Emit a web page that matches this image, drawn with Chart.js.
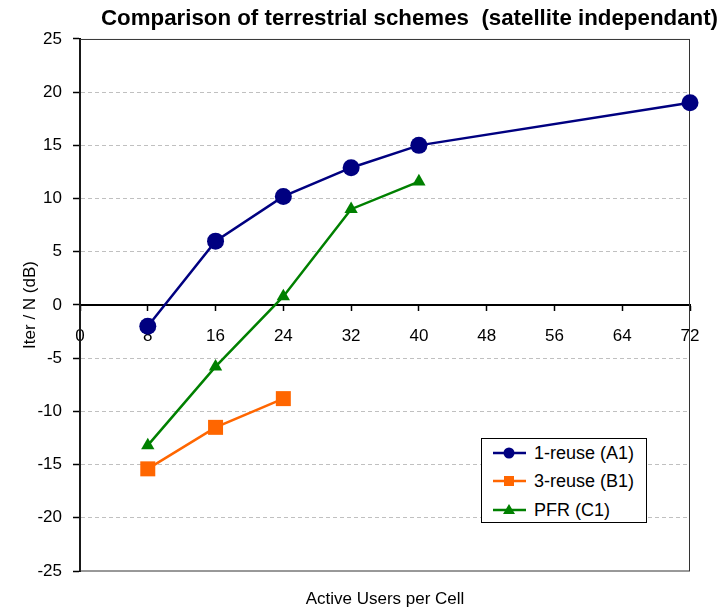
<!DOCTYPE html>
<html><head><meta charset="utf-8">
<script src="https://cdn.jsdelivr.net/npm/chart.js@4"></script>
<style>
html,body{margin:0;padding:0;background:#fff;}
#wrap{position:relative;width:720px;height:612px;}
#legend{position:absolute;left:481px;top:438px;width:164px;height:83px;border:1px solid #000;background:#fff;font-family:"Liberation Sans",Arial,sans-serif;font-size:18px;color:#000;}
.row{position:absolute;left:0;width:164px;height:20px;}
.row svg{position:absolute;left:8px;top:0;}
.row span{position:absolute;left:52px;top:0px;line-height:20px;white-space:nowrap;}
</style></head><body>
<div id="wrap"><canvas id="c" width="720" height="612"></canvas><div id="legend"></div></div>
<script>
const seriesNames = ['1-reuse (A1)', '3-reuse (B1)', 'PFR (C1)'];
const usersA1 = [8, 16, 24, 32, 40, 72];
const iterA1 = [-2, 6, 10.2, 12.9, 15, 19];
const usersB1 = [8, 16, 24];
const iterB1 = [-15.4, -11.5, -8.8];
const usersC1 = [8, 16, 24, 32, 40];
const iterC1 = [-13.2, -5.8, 0.8, 9.0, 11.6];
const xTicks = [0, 8, 16, 24, 32, 40, 48, 56, 64, 72];
const yTicks = [-25, -20, -15, -10, -5, 0, 5, 10, 15, 20, 25];
const titleText = 'Comparison of terrestrial schemes  (satellite independant)';
const xTitle = 'Active Users per Cell';
const yTitle = 'Iter / N (dB)';

const FONT = "'Liberation Sans', Arial, sans-serif";
Chart.defaults.font.family = FONT;
Chart.defaults.color = '#000';

function pts(xs, ys) { return xs.map((x, i) => ({x: x, y: ys[i]})); }

const colors = ['#000080', '#FF6600', '#008000'];
const styles = ['circle', 'rect', 'triangle'];
const radii = [8.5, 10.6, 7.7];

const frame = {
  id: 'frame',
  beforeDatasetsDraw(chart) {
    const a = chart.chartArea, ctx = chart.ctx;
    ctx.save();
    ctx.strokeStyle = '#333';
    ctx.lineWidth = 1;
    ctx.strokeRect(a.left, a.top + 0.5, a.right - a.left - 0.5, a.bottom - a.top - 0.5);
    ctx.restore();
  }
};

const chart = new Chart(document.getElementById('c'), {
  type: 'line',
  data: {
    datasets: [
      {label: seriesNames[0], data: pts(usersA1, iterA1)},
      {label: seriesNames[1], data: pts(usersB1, iterB1)},
      {label: seriesNames[2], data: pts(usersC1, iterC1)}
    ].map((d, i) => Object.assign(d, {
      borderColor: colors[i], backgroundColor: colors[i],
      pointBackgroundColor: colors[i], pointBorderColor: colors[i],
      pointStyle: styles[i], pointRadius: radii[i], pointBorderWidth: 0,
      borderWidth: 2.5, tension: 0, clip: false, xAxisID: 'x', yAxisID: 'y'
    }))
  },
  options: {
    responsive: false,
    animation: false,
    layout: {padding: {left: 0, right: 2, top: 0, bottom: 0}},
    plugins: {
      legend: {display: false},
      tooltip: {enabled: false},
      title: {
        display: true, text: titleText, align: 'end', color: '#000',
        font: {size: 22.3, weight: 'bold', family: FONT},
        padding: {top: 5, bottom: 7.2}
      }
    },
    scales: {
      x: {
        type: 'linear', min: 0, max: 72,
        position: {y: 0},
        afterBuildTicks: s => { s.ticks = xTicks.map(v => ({value: v})); },
        ticks: {autoSkip: false, maxRotation: 0, padding: 16, font: {size: 17}, color: '#000'},
        grid: {drawOnChartArea: false, drawTicks: true, tickLength: 5, tickColor: '#000', tickWidth: 1.5},
        border: {display: true, color: '#000', width: 2}
      },
      xb: {
        type: 'linear', position: 'bottom', min: 0, max: 1,
        ticks: {display: false}, grid: {display: false}, border: {display: false},
        title: {display: true, text: xTitle, font: {size: 17}, color: '#000', padding: {top: 0, bottom: 2}},
        afterFit: s => { s.height = 41; }
      },
      y: {
        type: 'linear', position: 'left', min: -25, max: 25,
        afterBuildTicks: s => { s.ticks = yTicks.map(v => ({value: v})); },
        ticks: {padding: 11, font: {size: 17}, color: '#000'},
        grid: {
          color: c => (c.tick && (c.tick.value === 0 || Math.abs(c.tick.value) === 25)) ? 'rgba(0,0,0,0)' : '#c0c0c0',
          lineWidth: 1, tickLength: 7, tickColor: '#000', tickWidth: 1.5, tickBorderDash: []
        },
        border: {display: true, color: '#000', width: 2, dash: [4, 3]},
        title: {display: true, text: yTitle, font: {size: 17}, color: '#000', padding: {top: 20, bottom: 0}},
        afterFit: s => { s.width = 80; }
      },
      yr: {
        type: 'linear', position: 'right', min: 0, max: 1,
        ticks: {display: false}, grid: {display: false}, border: {display: false},
        afterFit: s => { s.width = 28; }
      }
    }
  },
  plugins: [frame]
});

// HTML legend built from the chart datasets
const legend = document.getElementById('legend');
const rowTops = [4, 32, 61];
chart.data.datasets.forEach((ds, i) => {
  const row = document.createElement('div');
  row.className = 'row';
  row.style.top = rowTops[i] + 'px';
  const c = ds.borderColor;
  let marker = '';
  if (ds.pointStyle === 'circle') marker = `<circle cx="19" cy="10" r="5.5" fill="${c}"/>`;
  else if (ds.pointStyle === 'rect') marker = `<rect x="14" y="5" width="10" height="10" fill="${c}"/>`;
  else marker = `<polygon points="19,4 25,14 13,14" fill="${c}"/>`;
  row.innerHTML = `<svg width="40" height="20"><line x1="3" y1="10" x2="36" y2="10" stroke="${c}" stroke-width="2.5"/>${marker}</svg><span>${ds.label}</span>`;
  legend.appendChild(row);
});
</script>
</body></html>
